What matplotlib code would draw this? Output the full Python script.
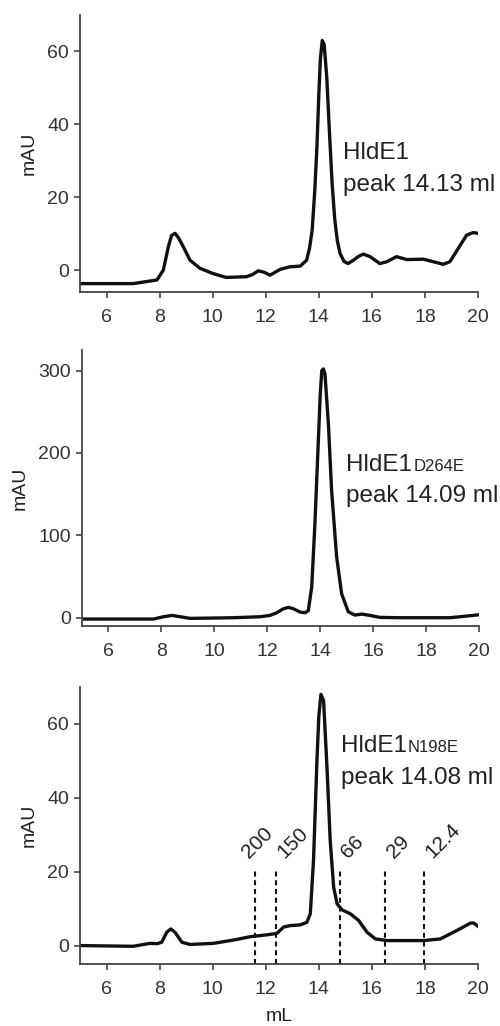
import matplotlib
matplotlib.use('Agg')
import matplotlib.pyplot as plt
import numpy as np

plt.rcParams['font.family'] = ['Liberation Sans', 'DejaVu Sans']

# elution volume (mL) and absorbance (mAU)
wt_ml = [5.0, 7.0, 7.9, 8.14, 8.33, 8.45, 8.58, 8.7, 8.83, 9.15, 9.52, 10.0, 10.5,
         11.28, 11.5, 11.72, 11.95, 12.16, 12.54, 12.9, 13.3, 13.54, 13.65, 13.75,
         13.85, 13.93, 14.0, 14.06, 14.13, 14.2, 14.3, 14.4, 14.5, 14.6, 14.7, 14.8,
         14.95, 15.1, 15.3, 15.5, 15.68, 15.93, 16.3, 16.56, 16.93, 17.31, 17.94,
         18.32, 18.69, 18.94, 19.26, 19.57, 19.82, 20.0]
wt_mau = [-3.7, -3.7, -2.7, 0.0, 6.4, 9.5, 10.1, 9.0, 7.3, 2.7, 0.5, -0.9, -2.0,
          -1.8, -1.2, -0.2, -0.6, -1.4, 0.2, 0.9, 1.1, 2.7, 6.0, 11.0,
          22.0, 34.0, 48.0, 58.0, 63.0, 62.0, 53.0, 38.0, 24.0, 14.0, 8.0, 4.6,
          2.4, 1.8, 2.7, 3.8, 4.4, 3.7, 1.8, 2.3, 3.7, 2.9, 3.0,
          2.3, 1.6, 2.3, 6.0, 9.6, 10.3, 10.1]

d264e_ml = [5.0, 7.7, 8.08, 8.4, 8.71, 9.09, 10.72, 11.73, 12.1, 12.36, 12.61, 12.8,
            12.99, 13.24, 13.43, 13.55, 13.68, 13.8, 13.93, 14.0, 14.06, 14.12, 14.18,
            14.31, 14.43, 14.62, 14.81, 15.06, 15.31, 15.57, 15.88, 16.26, 17.0, 18.9,
            19.53, 20.0]
d264e_mau = [-1.6, -1.6, 1.2, 2.8, 1.2, -0.8, 0.0, 1.2, 2.8, 6.0, 10.9, 12.5,
             10.9, 6.9, 6.0, 8.5, 37.5, 114.0, 215.0, 270.0, 300.0, 302.0, 296.0,
             235.0, 155.0, 74.0, 29.0, 7.3, 3.2, 4.4, 2.8, 0.4, 0.0, 0.0,
             2.0, 3.6]

n198e_ml = [5.0, 7.0, 7.4, 7.64, 7.9, 8.08, 8.27, 8.42, 8.58, 8.84, 9.15, 10.03,
            10.79, 11.42, 12.04, 12.42, 12.67, 12.92, 13.3, 13.55, 13.68, 13.8, 13.93,
            14.0, 14.08, 14.18, 14.31, 14.43, 14.56, 14.69, 14.87, 15.19, 15.5, 15.82,
            16.13, 16.57, 17.96, 18.58, 19.21, 19.72, 19.84, 20.0]
n198e_mau = [0.0, -0.2, 0.3, 0.6, 0.5, 0.9, 3.6, 4.5, 3.6, 0.9, 0.3, 0.6,
             1.5, 2.4, 2.9, 3.3, 5.0, 5.4, 5.6, 6.3, 8.6, 23.0, 50.0,
             62.0, 68.0, 66.3, 48.0, 28.4, 15.8, 11.3, 9.7, 8.6, 6.8, 3.6,
             1.8, 1.35, 1.35, 1.8, 4.1, 6.1, 6.1, 5.2]

# molecular weight standards (kDa) and their elution volumes
std_labels = ['200', '150', '66', '29', '12.4']
std_ml = [11.6, 12.4, 14.79, 16.5, 17.96]

names = ['HldE1', 'HldE1', 'HldE1']
subs = ['', 'D264E', 'N198E']
peaks = ['peak 14.13 ml', 'peak 14.09 ml', 'peak 14.08 ml']
ylims = [(-6, 70), (-10, 325), (-5, 70)]
yticks = [[0, 20, 40, 60], [0, 100, 200, 300], [0, 20, 40, 60]]
label_pos = [(14.91, 30.4, 21.8), (14.99, 177.6, 140.4), (14.83, 52.3, 43.8)]

fig = plt.figure(figsize=(5.0, 10.26), dpi=100)
rects = [[0.16, 0.7154, 0.796, 0.270],
         [0.164, 0.3899, 0.794, 0.269],
         [0.16, 0.0604, 0.796, 0.270]]
traces = [(wt_ml, wt_mau), (d264e_ml, d264e_mau), (n198e_ml, n198e_mau)]

axes = []
for i, rect in enumerate(rects):
    ax = fig.add_axes(rect)
    xs, ys = traces[i]
    ax.plot(xs, ys, color='#111111', lw=2.4, solid_joinstyle='round')
    ax.set_xlim(5, 20)
    ax.set_ylim(*ylims[i])
    ax.set_xticks(range(6, 21, 2))
    ax.set_yticks(yticks[i])
    ax.spines['top'].set_visible(False)
    ax.spines['right'].set_visible(False)
    for s in ['left', 'bottom']:
        ax.spines[s].set_color('#444444')
        ax.spines[s].set_linewidth(1.3)
    ax.tick_params(axis='both', direction='out', length=4.5, width=1.2,
                   color='#444444', labelsize=14, labelcolor='#333333')
    ax.tick_params(axis='x', pad=8)
    ax.tick_params(axis='y', pad=3.5)
    ax.set_ylabel('mAU', fontsize=14, color='#222222', labelpad=7)
    axes.append(ax)

axes[2].set_xlabel('mL', fontsize=14, color='#222222', labelpad=7)

# standards on the bottom panel
ax3 = axes[2]
for lab, xv in zip(std_labels, std_ml):
    ax3.plot([xv, xv], [-5, 20.3], color='#111111', lw=1.5,
             linestyle=(0, (2.4, 1.8)))
    dx = -12 if lab == '200' else -1.5
    ax3.annotate(lab, xy=(xv, 20.3), xytext=(dx, 6), textcoords='offset points',
                 rotation=45, ha='left', va='bottom',
                 fontsize=15, color='#222222')

# sample name + peak position labels
fig.canvas.draw()
for i, ax in enumerate(axes):
    x0, yname, ypeak = label_pos[i]
    t = ax.text(x0, yname, names[i], fontsize=17.5, color='#222222', va='baseline')
    ax.text(x0, ypeak, peaks[i], fontsize=17.5, color='#222222', va='baseline')
    if subs[i]:
        fig.canvas.draw()
        bb = t.get_window_extent()
        px, py = ax.transData.transform((x0, yname))
        xs_data, _ = ax.transData.inverted().transform((bb.x1 + 1, py))
        ax.text(xs_data, yname, subs[i], fontsize=12, color='#222222',
                va='baseline')

fig.savefig('out.png', dpi=100)
